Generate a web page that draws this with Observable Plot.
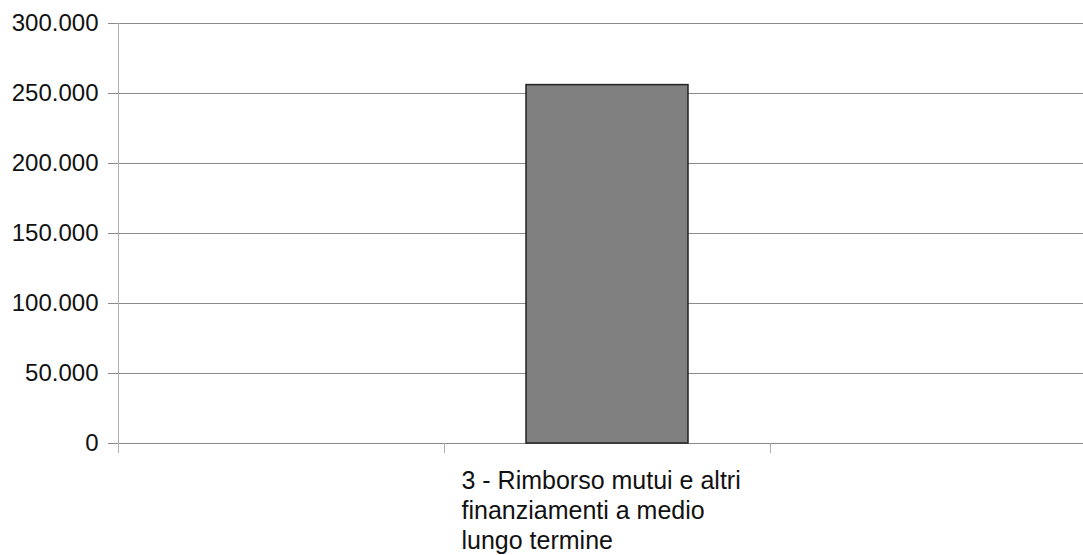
<!DOCTYPE html>
<html>
<head>
<meta charset="utf-8">
<script src="https://cdn.jsdelivr.net/npm/d3@7"></script>
<script src="https://cdn.jsdelivr.net/npm/@observablehq/plot@0.6"></script>
<style>
  html, body { margin: 0; padding: 0; background: #fff; overflow: hidden; }
  svg { overflow: visible; max-width: none !important; width: 1096px !important; height: 555px !important; }
</style>
</head>
<body>
<div id="chart"></div>
<script>
const categories = ["", "3 - Rimborso mutui e altri\nfinanziamenti a medio\nlungo termine", " "];
const values = [null, 256000, null];
const yTicks = [0, 50000, 100000, 150000, 200000, 250000, 300000];

const data = categories.map((c, i) => ({category: c, value: values[i]}));
const bars = data.filter(d => d.value != null);

const it = d3.formatLocale({decimal: ",", thousands: ".", grouping: [3], currency: ["€", ""]});
const fmt = it.format(",d");

const width = 1096, marginLeft = 118, marginRight = 0;
const step = (width - marginLeft - marginRight) / categories.length;

const chart = Plot.plot({
  width,
  height: 555,
  marginLeft,
  marginRight,
  marginTop: 23,
  marginBottom: 112,
  style: {fontFamily: "'Liberation Sans', Arial, sans-serif", fontSize: "24px", color: "#111", background: "#fff"},
  x: {domain: categories, padding: 0, axis: null},
  y: {domain: [0, 300000], axis: null},
  marks: [
    Plot.ruleY(yTicks, {stroke: "#8a8a8a", strokeWidth: 1, insetLeft: -10}),
    Plot.frame({anchor: "left", stroke: "#b0b0b0"}),
    Plot.ruleX(categories, {x: d => d, dx: -step / 2, y1: 0, y2: 0, insetBottom: -10, stroke: "#b0b0b0"}),
    Plot.axisY(yTicks, {tickSize: 0, tickPadding: 20, tickFormat: fmt, fontSize: 24, fill: "#111", label: null}),
    Plot.barY(bars, {x: "category", y: "value", fill: "#808080", stroke: "#222", strokeWidth: 1.5, insetLeft: 82, insetRight: 82}),
    Plot.text(bars, {x: "category", y: 0, text: "category", textAnchor: "start", lineAnchor: "top", dx: -step / 2 + 17, dy: 24, lineHeight: 1.2, fontSize: 25, fill: "#111", style: "letter-spacing:0.3px"})
  ]
});
document.getElementById("chart").append(chart);
</script>
</body>
</html>
